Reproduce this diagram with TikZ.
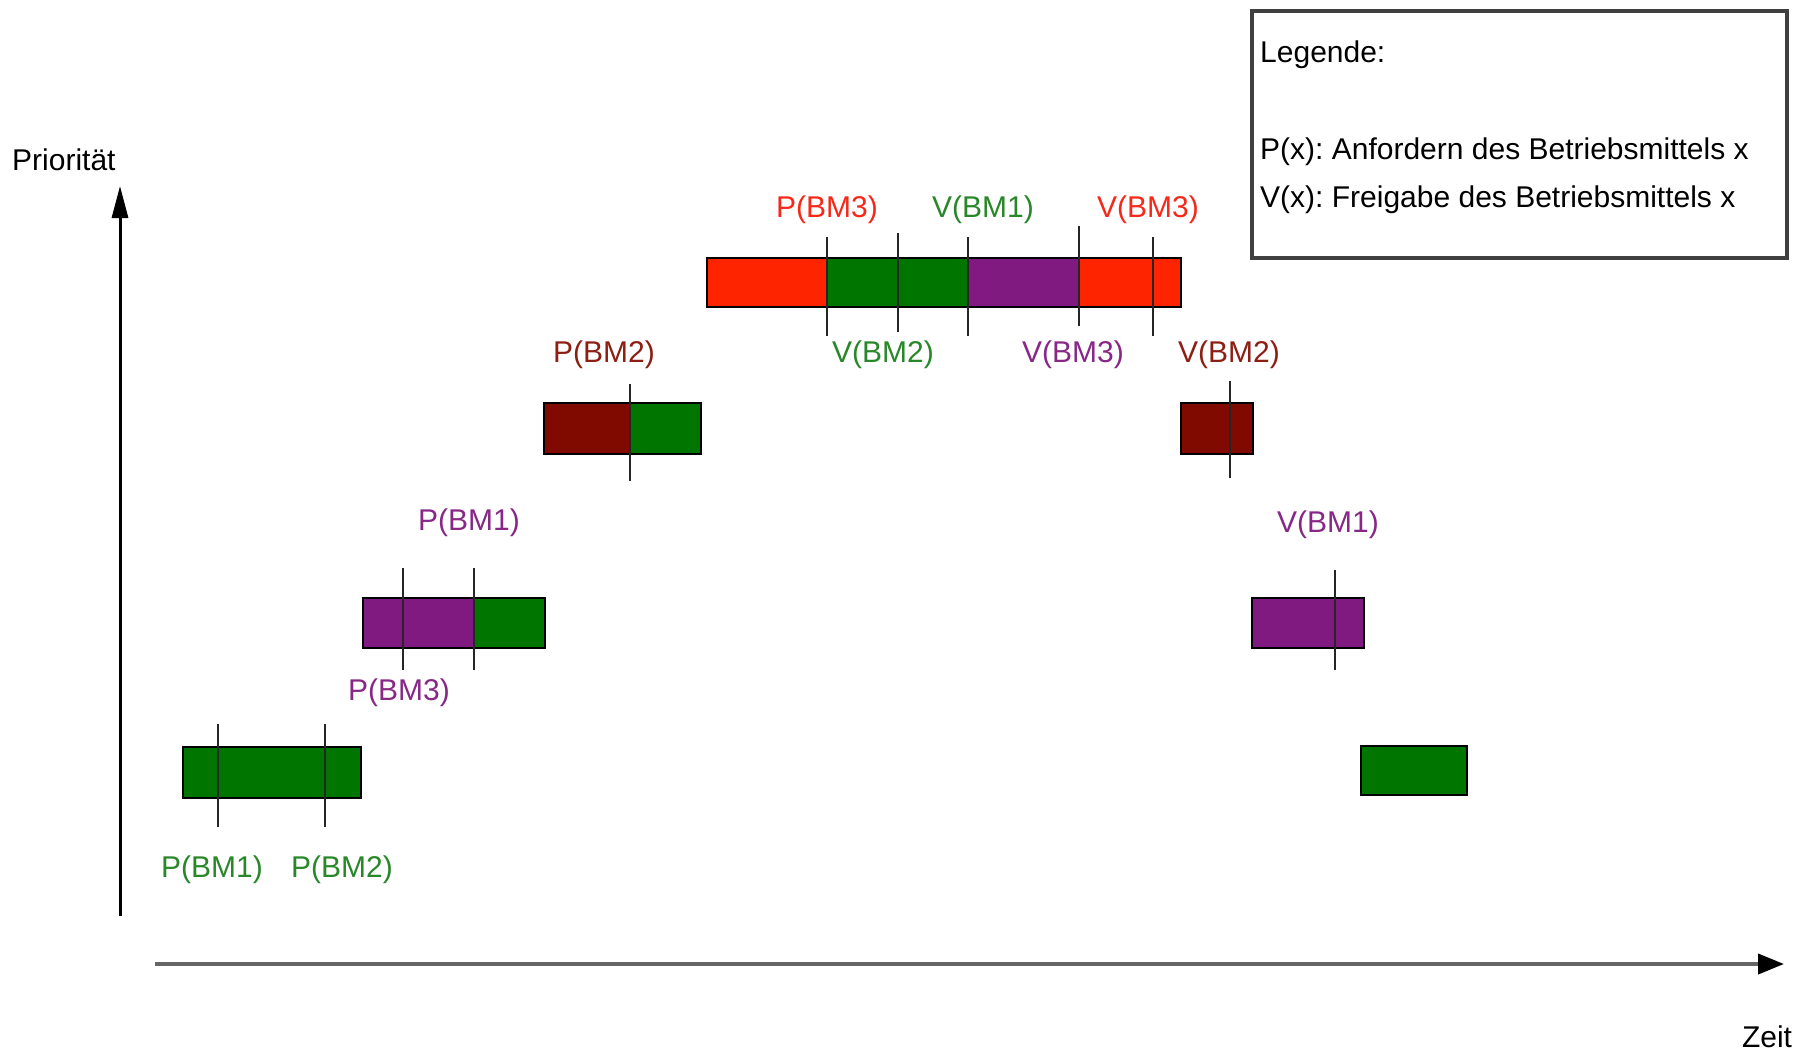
\documentclass[tikz,border=0pt]{standalone}
\usepackage{fontspec}
\setmainfont{Liberation Sans}
\usetikzlibrary{arrows.meta}
\frenchspacing
\definecolor{cred}{RGB}{255,36,0}
\definecolor{cgreen}{RGB}{0,118,0}
\definecolor{cpurple}{RGB}{128,26,128}
\definecolor{cdred}{RGB}{128,10,0}
\definecolor{lgreen}{RGB}{40,135,40}
\definecolor{lpurple}{RGB}{135,40,135}
\definecolor{lred}{RGB}{245,40,25}
\definecolor{ldred}{RGB}{140,30,20}
\tikzset{
  seg/.style={draw=black, line width=2.8pt},
  tickline/.style={draw=black!85, line width=1.8pt},
  lbl/.style={font=\fontsize{30}{36}\selectfont, inner sep=0pt},
  axis/.style={line width=3pt},
}
\begin{document}
\begin{tikzpicture}[x=1pt,y=-1pt]
\useasboundingbox (0,0) rectangle (1796,1055);
\fill[white] (0,0) rectangle (1796,1055);

% axes
\coordinate (yb) at (120,916);
\coordinate (yt) at (120,186);
\draw[axis, black, -{Triangle[length=32pt,width=16pt]}] (yb) -- (yt);
\node[lbl, anchor=west] (prio) at (12,160) {Priorität};
\coordinate (xl) at (155,964);
\coordinate (xr) at (1784,964);
\draw[line width=4pt, black!60, -{Triangle[length=26pt,width=20pt,fill=black,color=black]}] (xl) -- (xr);
\node[lbl] (zeit) at (1767,1037) {Zeit};

% legend
\draw[line width=3.5pt, black!75] (1252,11) rectangle (1787,258);
\node[lbl, anchor=west] (leg) at (1260,55) {Legende:};
\node[lbl, anchor=west] (legp) at (1260,152) {P(x): Anfordern des Betriebsmittels x};
\node[lbl, anchor=west] (legv) at (1260,200) {V(x): Freigabe des Betriebsmittels x};

% level 1
\filldraw[seg, fill=cgreen] (183,747) rectangle (361,798);
\draw[tickline] (218,724) -- (218,827);
\draw[tickline] (325,724) -- (325,827);
\node[lbl, text=lgreen] (l1a) at (212,870) {P(BM1)};
\node[lbl, text=lgreen] (l1b) at (342,870) {P(BM2)};

% level 2
\filldraw[seg, fill=cpurple] (363,598) rectangle (474,648);
\filldraw[seg, fill=cgreen] (474,598) rectangle (545,648);
\draw[tickline] (403,568) -- (403,670);
\draw[tickline] (474,568) -- (474,670);
\node[lbl, text=lpurple] (l2a) at (469,523) {P(BM1)};
\node[lbl, text=lpurple] (l2b) at (399,693) {P(BM3)};

% level 3
\filldraw[seg, fill=cdred] (544,403) rectangle (630,454);
\filldraw[seg, fill=cgreen] (630,403) rectangle (701,454);
\draw[tickline] (630,384) -- (630,481);
\node[lbl, text=ldred] (l3a) at (604,355) {P(BM2)};

% level 4
\filldraw[seg, fill=cred] (707,258) rectangle (827,307);
\filldraw[seg, fill=cgreen] (827,258) rectangle (968,307);
\filldraw[seg, fill=cpurple] (968,258) rectangle (1079,307);
\filldraw[seg, fill=cred] (1079,258) rectangle (1181,307);
\draw[tickline] (827,237) -- (827,336);
\draw[tickline] (898,233) -- (898,332);
\draw[tickline] (968,237) -- (968,336);
\draw[tickline] (1079,226) -- (1079,326);
\draw[tickline] (1153,237) -- (1153,336);
\node[lbl, text=lred] (l4a) at (827,210) {P(BM3)};
\node[lbl, text=lgreen] (l4b) at (983,210) {V(BM1)};
\node[lbl, text=lred] (l4c) at (1148,210) {V(BM3)};
\node[lbl, text=lgreen] (l4d) at (883,355) {V(BM2)};
\node[lbl, text=lpurple] (l4e) at (1073,355) {V(BM3)};

% level 3 right
\filldraw[seg, fill=cdred] (1181,403) rectangle (1253,454);
\draw[tickline] (1230,381) -- (1230,478);
\node[lbl, text=ldred] (r3a) at (1229,355) {V(BM2)};

% level 2 right
\filldraw[seg, fill=cpurple] (1252,598) rectangle (1364,648);
\draw[tickline] (1335,570) -- (1335,670);
\node[lbl, text=lpurple] (r2a) at (1328,525) {V(BM1)};

% level 1 right
\filldraw[seg, fill=cgreen] (1361,746) rectangle (1467,795);
\end{tikzpicture}
\end{document}
